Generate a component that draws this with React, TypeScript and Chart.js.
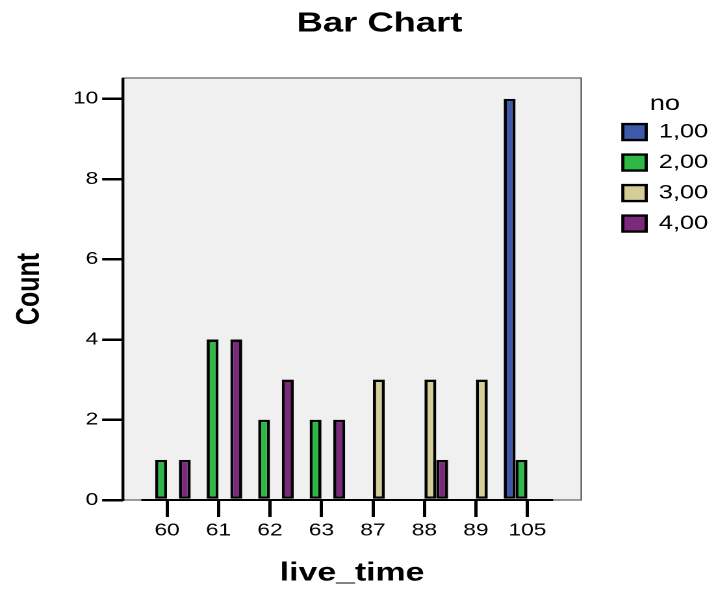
import React, { useEffect, useRef } from 'react';
import { Chart, registerables } from 'chart.js';

Chart.register(...registerables);

// ---- data ----
const categories = ['60', '61', '62', '63', '87', '88', '89', '105'];
const seriesLabels = ['1,00', '2,00', '3,00', '4,00'];
const series1 = [null, null, null, null, null, null, null, 10];
const series2 = [1, 4, 2, 2, null, null, null, 1];
const series3 = [null, null, null, null, 3, 3, 3, null];
const series4 = [1, 4, 3, 2, null, 1, null, null];
const yTicks = [0, 2, 4, 6, 8, 10];

const TITLE = 'Bar Chart';
const X_TITLE = 'live_time';
const Y_TITLE = 'Count';
const LEGEND_TITLE = 'no';

// ---- style ----
const colors = ['#3E58AC', '#2EB848', '#D3CE97', '#7C287D'];
const FONT = "'Liberation Sans', Arial, Helvetica, sans-serif";
const INNER_W = 551; // drawing width; stretched horizontally to 716 by CSS
const OUTER_W = 716;
const H = 595;

const framePlugin = {
  id: 'spssFrame',
  beforeDraw(chart: any) {
    const { ctx, chartArea: a } = chart;
    ctx.save();
    ctx.fillStyle = '#F0F0F0';
    ctx.fillRect(a.left, a.top, a.right - a.left, a.bottom - a.top);
    ctx.strokeStyle = '#5c5c5c';
    ctx.lineWidth = 1.2;
    ctx.strokeRect(a.left, a.top, a.right - a.left, a.bottom - a.top);
    ctx.fillStyle = '#000';
    ctx.font = `bold 28px ${FONT}`;
    ctx.textAlign = 'center';
    ctx.textBaseline = 'middle';
    ctx.fillText(TITLE, chart.width * 0.53, 24);
    ctx.restore();
  },
  beforeDatasetsDraw(chart: any) {
    const { ctx, chartArea: a } = chart;
    const xs = chart.scales.x;
    ctx.save();
    ctx.strokeStyle = '#000';
    ctx.lineWidth = 2;
    ctx.beginPath();
    ctx.moveTo(xs.getPixelForValue(-0.5), a.bottom);
    ctx.lineTo(xs.getPixelForValue(categories.length - 0.5), a.bottom);
    ctx.stroke();
    ctx.lineWidth = 2.2;
    ctx.beginPath();
    ctx.moveTo(a.left, a.top);
    ctx.lineTo(a.left, a.bottom + 1);
    ctx.stroke();
    ctx.restore();
  },
};

export default function App() {
  const canvasRef = useRef<HTMLCanvasElement | null>(null);

  useEffect(() => {
    const canvas = canvasRef.current;
    if (!canvas) return;
    const seriesValues = [series1, series2, series3, series4];
    const chart = new Chart(canvas, {
      type: 'bar',
      data: {
        datasets: seriesValues.map((vals, k) => ({
          label: seriesLabels[k],
          data: categories.map((_, i) => ({ x: i, y: vals[i] })),
          backgroundColor: colors[k],
          borderColor: '#000',
          borderWidth: 2.4,
          borderSkipped: false,
          categoryPercentage: 0.92,
          barPercentage: 1,
        })),
      },
      options: {
        responsive: false,
        animation: false,
        devicePixelRatio: 2,
        events: [],
        layout: { padding: { top: 78, left: 0, right: -4, bottom: 0 } },
        scales: {
          x: {
            type: 'linear',
            offset: false,
            min: -0.857,
            max: 8.046,
            afterFit: (s: any) => {
              s.height = 95;
            },
            afterBuildTicks: (s: any) => {
              s.ticks = categories.map((_, i) => ({ value: i }));
            },
            ticks: {
              stepSize: 1,
              includeBounds: false,
              autoSkip: false,
              maxRotation: 0,
              padding: 3,
              color: '#000',
              font: { family: FONT, size: 17.5 },
              callback: (v: any) => categories[v] ?? '',
            },
            grid: {
              offset: false,
              drawOnChartArea: false,
              tickLength: 17,
              color: '#000',
              lineWidth: 2.5,
            },
            border: { display: false },
            title: {
              display: true,
              text: X_TITLE,
              color: '#000',
              font: { family: FONT, size: 26, weight: 'bold' },
              padding: { top: 0, bottom: 6 },
            },
          },
          y: {
            min: 0,
            max: 10.52,
            afterFit: (s: any) => {
              s.width = 94.6;
            },
            afterBuildTicks: (s: any) => {
              s.ticks = yTicks.map((v) => ({ value: v }));
            },
            ticks: {
              stepSize: 2,
              includeBounds: false,
              padding: 3,
              color: '#000',
              font: { family: FONT, size: 17.5 },
            },
            grid: {
              drawOnChartArea: false,
              tickLength: 16,
              color: '#000',
              lineWidth: 2.5,
            },
            border: { display: false },
            title: {
              display: true,
              text: Y_TITLE,
              color: '#000',
              font: { family: FONT, size: 25, weight: 'bold' },
              padding: { top: 8, bottom: 0 },
            },
          },
          pad: {
            type: 'linear',
            position: 'right',
            display: true,
            grid: { display: false },
            border: { display: false },
            ticks: { display: false },
            afterFit: (s: any) => {
              s.width = 21;
            },
          },
        },
        plugins: {
          title: { display: false },
          tooltip: { enabled: false },
          legend: {
            position: 'right',
            align: 'start',
            title: {
              display: true,
              text: LEGEND_TITLE,
              color: '#000',
              font: { family: FONT, size: 21, lineHeight: 0.85 },
              padding: { top: 15.5, bottom: 0 },
            },
            labels: {
              boxWidth: 18,
              boxHeight: 16,
              padding: 11,
              color: '#000',
              font: { family: FONT, size: 19.5 },
            },
          },
        },
      },
      plugins: [framePlugin],
    } as any);
    return () => chart.destroy();
  }, []);

  return (
    <div style={{ position: 'absolute', left: 0, top: 0, width: OUTER_W, height: H, background: '#fff' }}>
      <canvas
        ref={canvasRef}
        width={INNER_W}
        height={H}
        style={{ width: OUTER_W, height: H, display: 'block' }}
      />
    </div>
  );
}
